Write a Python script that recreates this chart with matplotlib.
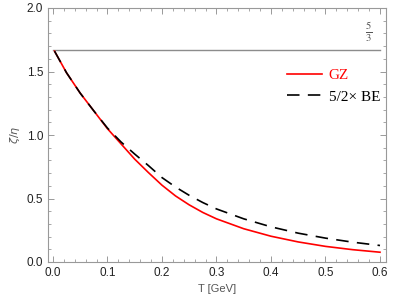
import numpy as np
import matplotlib
matplotlib.use('Agg')
import matplotlib.pyplot as plt
from matplotlib.ticker import MultipleLocator

# values
T = [0.003, 0.025, 0.05, 0.075, 0.1, 0.125, 0.15, 0.175, 0.2, 0.225,
     0.25, 0.275, 0.3, 0.35, 0.4, 0.45, 0.5, 0.55, 0.6]
gz = [1.66, 1.49, 1.33, 1.19, 1.05, 0.93, 0.81, 0.705, 0.605, 0.52,
      0.45, 0.39, 0.34, 0.262, 0.203, 0.158, 0.123, 0.097, 0.077]
be = [1.66, 1.49, 1.33, 1.19, 1.055, 0.945, 0.85, 0.76, 0.665, 0.59,
      0.525, 0.468, 0.418, 0.34, 0.277, 0.227, 0.188, 0.156, 0.13]
limit = 5/3

frame = '#999999'
plt.rcParams['font.family'] = ['Liberation Sans', 'DejaVu Sans']

fig = plt.figure(figsize=(3.95, 3.02), dpi=100)
ax = fig.add_axes([48/395, 1 - 262/302, 338/395, 254/302])

ax.plot([0, 0.6], [limit, limit], color='#8c8c8c', lw=1.0)
ax.plot(T, gz, color='red', lw=1.2, label='GZ')
ln, = ax.plot(T, be, color='black', lw=1.2, label='5/2× BE')
ln.set_dashes((7.5, 5))

ax.set_xlim(-0.009, 0.611)
ax.set_ylim(0, 2.0)
ax.xaxis.set_major_locator(MultipleLocator(0.1))
ax.xaxis.set_minor_locator(MultipleLocator(0.02))
ax.yaxis.set_major_locator(MultipleLocator(0.5))
ax.yaxis.set_minor_locator(MultipleLocator(0.1))
ax.tick_params(which='both', direction='in', top=True, right=True,
               color=frame, labelsize=8.5, labelcolor='#222222')
ax.tick_params(which='major', length=4, width=0.7)
ax.tick_params(which='minor', length=2, width=0.6)
ax.xaxis.set_major_formatter(plt.FuncFormatter(lambda v, p: '%.1f' % v))
ax.yaxis.set_major_formatter(plt.FuncFormatter(lambda v, p: '%.1f' % v))
for s in ax.spines.values():
    s.set_color(frame)
    s.set_linewidth(0.8)

ax.set_xlabel('T [GeV]', fontsize=8, color='#555555', labelpad=4)
ax.set_ylabel(r'$\zeta/\eta$', fontsize=8, color='#555555', labelpad=3)

ax.text(0.58, 1.81, r'$\frac{5}{3}$', fontsize=11, color='#555555',
        ha='center', va='center', math_fontfamily='stix')

leg = ax.legend(loc='upper left', bbox_to_anchor=(0.69, 0.785), frameon=False,
                handlelength=2.3, handletextpad=0.4, labelspacing=0.5,
                prop={'family': 'Liberation Serif', 'size': 11},
                labelcolor=['red', 'black'], borderaxespad=0)

fig.savefig('out.png', dpi=100)
